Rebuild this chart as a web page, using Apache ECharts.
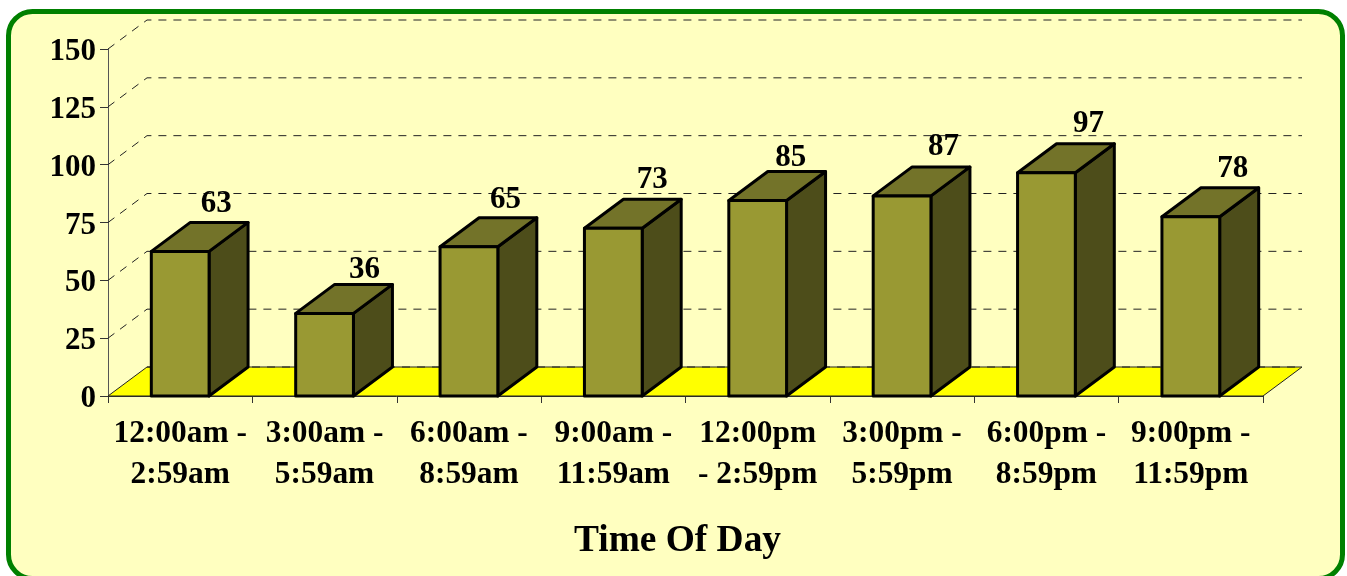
<!DOCTYPE html>
<html>
<head>
<meta charset="utf-8">
<style>html,body{margin:0;padding:0;background:#fff;overflow:hidden}#c{width:1347px;height:576px}</style>
<script src="https://cdn.jsdelivr.net/npm/echarts@6/dist/echarts.min.js"></script>
</head>
<body>
<div id="c"></div>
<script>
const categories = ['12:00am -\n2:59am','3:00am -\n5:59am','6:00am -\n8:59am','9:00am -\n11:59am','12:00pm\n- 2:59pm','3:00pm -\n5:59pm','6:00pm -\n8:59pm','9:00pm -\n11:59pm'];
const barValues = [62.5,35.7,64.5,72.5,84.5,86.5,96.5,77.5];
const labelValues = [63,36,65,73,85,87,97,78];
const wallTicks = [0,25,50,75,100,125,150];
const axisTitle = 'Time Of Day';

const DX = 39, DY = -29;
const LABEL_NUDGE_X = [-2,2,-1.5,1,-5,3.5,4,4];
const LABEL_NUDGE_Y = [2,6,2,1,6,0,0,1];
const FONT = '"Liberation Serif","Times New Roman",serif';
const chart = echarts.init(document.getElementById('c'), null, {renderer:'canvas'});

function plotEnds(api, v){
  const half = api.size([1,0])[0]/2;
  return [api.coord([0,v])[0]-half, api.coord([categories.length-1,v])[0]+half, api.coord([0,v])[1]];
}
function wallItem(params, api){
  const e = plotEnds(api, api.value(0));
  const pts = api.value(0)===0
    ? [[e[0]+DX,e[2]+DY],[e[1]+DX,e[2]+DY]]
    : [[e[0],e[2]],[e[0]+DX,e[2]+DY],[e[1]+DX,e[2]+DY]];
  return {type:'polyline', shape:{points:pts},
    style:{stroke:'#222',lineWidth:1,fill:null,lineDash:[8,7]}, silent:true};
}
function floorItem(params, api){
  const e = plotEnds(api, 0);
  return {type:'polygon', shape:{points:[[e[0],e[2]],[e[0]+DX,e[2]+DY],[e[1]+DX,e[2]+DY],[e[1],e[2]]]},
    style:{fill:'#ffff00',stroke:'#222',lineWidth:1}, silent:true};
}
function barItem(params, api){
  const i = api.value(0), v = api.value(1);
  const base = api.coord([i,0]), top = api.coord([i,v]);
  const w = api.size([1,0])[0]*0.4;
  const l = base[0]-w/2, r = base[0]+w/2, y0 = base[1], y1 = top[1];
  const line = {stroke:'#000',lineWidth:3,lineJoin:'round'};
  return {type:'group', children:[
    {type:'polygon',shape:{points:[[r,y0],[r+DX,y0+DY],[r+DX,y1+DY],[r,y1]]},style:Object.assign({fill:'#4d4d1a'},line)},
    {type:'polygon',shape:{points:[[l,y1],[l+DX,y1+DY],[r+DX,y1+DY],[r,y1]]},style:Object.assign({fill:'#737329'},line)},
    {type:'rect',shape:{x:l,y:y1,width:w,height:y0-y1},style:Object.assign({fill:'#999933'},line)},
    {type:'text',x:base[0]+38+LABEL_NUDGE_X[i],y:y1+DY-20+LABEL_NUDGE_Y[i],style:{text:String(labelValues[i]),font:'bold 31px '+FONT,fill:'#000',align:'center',verticalAlign:'middle'}}
  ]};
}

chart.setOption({
  animation:false,
  backgroundColor:'#fff',
  graphic:[{type:'rect',z:-10,silent:true,shape:{x:8.5,y:11.5,width:1334,height:567,r:24},
    style:{fill:'#ffffc0',stroke:'#008000',lineWidth:5}}],
  title:{text:axisTitle,left:574,top:523,padding:0,textStyle:{fontFamily:FONT,fontWeight:'bold',fontSize:37.4,color:'#000'}},
  grid:{left:108,right:84,top:49,bottom:180,containLabel:false},
  xAxis:{type:'category',data:categories,boundaryGap:true,
    axisLine:{lineStyle:{color:'#333',width:1}},
    axisTick:{show:true,alignWithLabel:false,length:7,lineStyle:{color:'#333',width:1}},
    axisLabel:{interval:0,margin:17,fontFamily:FONT,fontWeight:'bold',fontSize:31.4,color:'#000',lineHeight:41},
    splitLine:{show:false}},
  yAxis:{type:'value',min:0,max:150,interval:25,
    axisLine:{show:true,lineStyle:{color:'#555',width:1}},
    axisTick:{show:true,length:8,lineStyle:{color:'#333',width:1}},
    axisLabel:{margin:12,verticalAlignMaxLabel:'top',verticalAlignMinLabel:'top',verticalAlign:'top',lineHeight:30,padding:[-12,0,0,0],fontFamily:FONT,fontWeight:'bold',fontSize:31,color:'#000'},
    splitLine:{show:false}},
  series:[
    {type:'custom',coordinateSystem:'cartesian2d',clip:false,z:3,renderItem:wallItem,data:wallTicks.map(v=>[v]),encode:{y:0}},
    {type:'custom',coordinateSystem:'cartesian2d',clip:false,z:2,renderItem:floorItem,data:[[0]],encode:{y:0}},
    {type:'custom',coordinateSystem:'cartesian2d',clip:false,z:4,renderItem:barItem,
      data:barValues.map((v,i)=>[i,v]),encode:{x:0,y:1}}
  ]
});
</script>
</body>
</html>
